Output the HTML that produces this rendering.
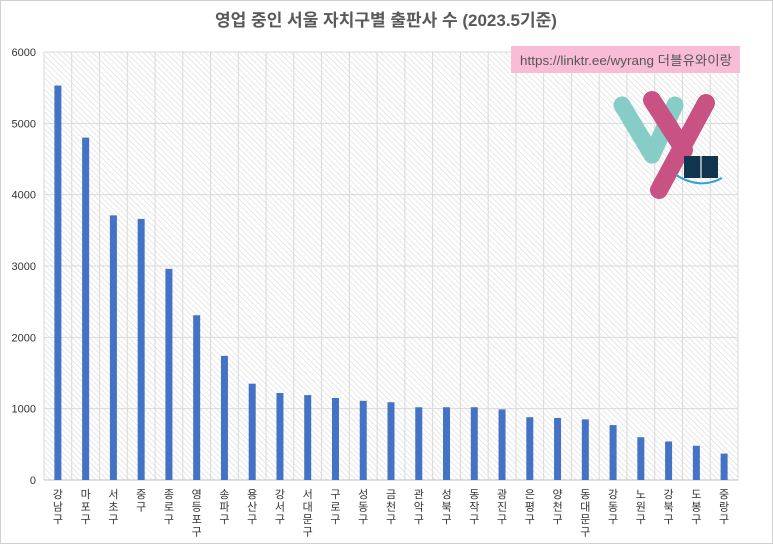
<!DOCTYPE html>
<html><head><meta charset="utf-8">
<style>
html,body{margin:0;padding:0;background:#fff;}
body{width:773px;height:544px;overflow:hidden;font-family:"Liberation Sans","Noto Sans CJK KR",sans-serif;}
</style></head>
<body>
<svg id="chart" width="773" height="544" xmlns="http://www.w3.org/2000/svg">
<defs>
<pattern id="hatch" width="4" height="4" patternUnits="userSpaceOnUse" patternTransform="rotate(-45)">
<rect width="4" height="4" fill="#fff"/>
<line x1="0" y1="0" x2="0" y2="4" stroke="#d8d8d8" stroke-width="1.2"/>
</pattern>
</defs>
<rect x="0.5" y="0.5" width="772" height="543" fill="#fff" stroke="#d0d0d0"/>
<text x="386" y="26" text-anchor="middle" font-size="17" font-weight="bold" fill="#595959" font-family="Liberation Sans, Noto Sans CJK KR, sans-serif">영업 중인 서울 자치구별 출판사 수 (2023.5기준)</text>
<g id="plot"></g>
<g>
<rect x="511" y="46" width="229" height="27" fill="#f9bcd6"/>
<text x="520" y="65" font-size="13" textLength="212" lengthAdjust="spacingAndGlyphs" fill="#555" font-family="Liberation Sans, Noto Sans CJK KR, sans-serif">https://linktr.ee/wyrang 더블유와이랑</text>
<line x1="622" y1="105" x2="652" y2="155" stroke="#85cdc6" stroke-width="17" stroke-linecap="round"/>
<line x1="675" y1="105" x2="652" y2="155" stroke="#85cdc6" stroke-width="17" stroke-linecap="round"/>
<line x1="652" y1="100" x2="684" y2="150" stroke="#c85283" stroke-width="18" stroke-linecap="round"/>
<line x1="706" y1="103" x2="659" y2="190" stroke="#c85283" stroke-width="18" stroke-linecap="round"/>
<rect x="684" y="156" width="34" height="22" fill="#11344f"/>
<line x1="701" y1="156" x2="701" y2="178" stroke="#ccc" stroke-width="1.5"/>
<path d="M676 175 Q700 190 722 178" stroke="#2aa4d8" stroke-width="2" fill="none"/>
</g>
</svg>
<script>
const categories=["강남구","마포구","서초구","중구","종로구","영등포구","송파구","용산구","강서구","서대문구","구로구","성동구","금천구","관악구","성북구","동작구","광진구","은평구","양천구","동대문구","강동구","노원구","강북구","도봉구","중랑구"];
const values=[5530,4800,3710,3660,2960,2310,1740,1350,1220,1190,1150,1110,1090,1020,1020,1020,990,880,870,850,770,600,540,480,370];
const yTicks=[0,1000,2000,3000,4000,5000,6000];
const NS="http://www.w3.org/2000/svg";
const L=44,R=738,T=52,B=480,YMAX=6000;
const n=categories.length, step=(R-L)/n;
const y=v=>B-(v/YMAX)*(B-T);
const x=i=>L+step*(i+0.5);
const g=document.getElementById('plot');
function mk(tag,attrs){const e=document.createElementNS(NS,tag);for(const k in attrs)e.setAttribute(k,attrs[k]);g.appendChild(e);return e;}
let bg=mk('rect',{x:L,y:T,width:R-L,height:B-T,fill:'url(#hatch)'});


for(let i=0;i<=n;i++){
  let l=mk('line',{x1:L+step*i,x2:L+step*i,y1:T,y2:B,stroke:'#d9d9d9','stroke-width':1});
  
  
}
yTicks.forEach(t=>{
  let l=mk('line',{x1:L,x2:R,y1:y(t),y2:y(t),stroke:t===0?'#bfbfbf':'#d9d9d9','stroke-width':1});
  
  
  let tx=mk('text',{x:L-8,y:y(t)+4,'text-anchor':'end','font-size':11,fill:'#333'});
  tx.textContent=t;
  
  
});
values.forEach((v,i)=>{
  let r=mk('rect',{x:x(i)-3.5,y:y(v),width:7,height:B-y(v),fill:'#4472c4'});
  
  
});
categories.forEach((c,i)=>{
  let tx=mk('text',{x:x(i),y:B+18,'text-anchor':'middle','font-size':11,fill:'#333'});
  
  
  [...c].forEach((ch,k)=>{const s=document.createElementNS(NS,'tspan');s.setAttribute('x',x(i));s.setAttribute('y',B+18+k*12.5);s.textContent=ch;tx.appendChild(s);});
});
</script>
</body></html>
